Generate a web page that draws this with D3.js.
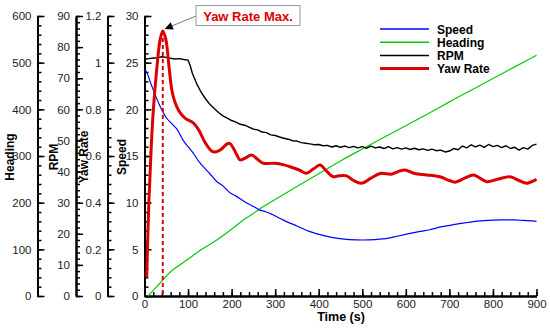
<!DOCTYPE html>
<meta charset="utf-8">
<script src="https://cdn.jsdelivr.net/npm/d3@7"></script>
<style>
body { margin: 0; background: #fff; }
text { font-family: "Liberation Sans", Arial, sans-serif; }
.axis text { font-size: 11.5px; fill: #222; }
.axis path { stroke: #000; stroke-width: 2; }
.axis line { stroke: #000; stroke-width: 1.5; }
.title { font-size: 12px; font-weight: bold; }
</style>
<body>
<script>
// series values (time in s)
var speedT = [0, 5, 12, 24, 36, 50, 62, 74, 90, 100, 112, 125, 140, 150, 165, 180, 195, 210, 230, 250, 265, 280, 295, 320, 350, 380, 410, 440, 470, 500, 530, 560, 580, 600, 630, 655, 680, 705, 730, 760, 790, 820, 850, 870, 900];
var speedV = [24.2, 24.0, 23.1, 21.6, 20.3, 19.1, 18.5, 17.9, 16.6, 16.0, 15.3, 14.4, 13.6, 13.1, 12.3, 11.8, 11.1, 10.7, 10.1, 9.6, 9.2, 9.0, 8.7, 8.1, 7.5, 6.9, 6.5, 6.2, 6.05, 6.0, 6.05, 6.2, 6.4, 6.6, 6.9, 7.1, 7.4, 7.6, 7.8, 8.0, 8.1, 8.15, 8.15, 8.1, 8.0];

var headingT = [8, 20, 30, 43, 60, 80, 97, 130, 166, 200, 227, 250, 272, 300, 349, 400, 453, 500, 550, 600, 650, 700, 750, 800, 850, 900];
var headingV = [0, 12, 22, 35, 52, 66, 77, 99, 120, 143, 163, 177, 191, 207, 234, 262, 291, 315, 340, 365, 390, 416, 441, 466, 491, 516];

var rpmT = [0, 10, 20, 30, 40, 50, 60, 70, 80, 90, 100, 105, 110, 120, 130, 140, 150, 160, 170, 180, 190, 200, 210, 220, 230, 240, 250, 260, 270, 280, 290, 300, 310, 320, 330, 340, 350, 360, 370, 380, 390, 400, 410, 420, 430, 440, 450, 460, 470, 480, 490, 500, 510, 520, 530, 540, 550, 560, 570, 580, 590, 600, 610, 620, 630, 640, 650, 660, 670, 680, 690, 700, 710, 720, 730, 740, 750, 760, 770, 780, 790, 800, 810, 820, 830, 840, 850, 860, 870, 880, 890, 900];
var rpmV = [76.1, 76.3, 76.5, 76.6, 76.9, 76.7, 76.4, 76.2, 76.3, 76.0, 75.8, 74.0, 71.5, 68.2, 65.5, 63.4, 61.6, 60.3, 59.0, 57.9, 57.2, 56.4, 55.9, 55.2, 54.9, 54.3, 53.6, 53.4, 52.7, 52.5, 51.8, 51.6, 51.1, 50.7, 50.4, 49.9, 49.8, 49.3, 49.1, 48.9, 48.6, 48.7, 48.3, 48.4, 47.9, 48.3, 47.8, 48.2, 47.7, 48.1, 47.6, 48.0, 47.5, 48.2, 47.6, 47.9, 47.4, 48.0, 47.3, 47.7, 47.2, 47.6, 47.1, 47.5, 47.0, 47.3, 46.8, 47.2, 46.7, 46.9, 46.3, 46.6, 47.4, 47.0, 48.2, 47.6, 48.6, 47.9, 48.5, 47.8, 48.7, 48.0, 48.4, 47.7, 48.3, 47.4, 47.8, 46.9, 47.7, 47.2, 48.4, 48.8];

var yawT = [5, 10, 15, 20, 28, 36, 42, 49, 57, 63, 70, 80, 93, 112, 125, 140, 155, 165, 177, 188, 196, 205, 212, 219, 230, 246, 260, 273, 300, 320, 334, 355, 372, 388, 403, 418, 433, 446, 464, 480, 498, 520, 541, 567, 585, 598, 620, 648, 678, 700, 713, 735, 755, 770, 786, 810, 839, 860, 877, 897, 900];
var yawV = [0.08, 0.40, 0.62, 0.79, 0.97, 1.10, 1.136, 1.10, 0.97, 0.88, 0.83, 0.79, 0.762, 0.742, 0.71, 0.655, 0.62, 0.618, 0.63, 0.65, 0.654, 0.63, 0.605, 0.583, 0.59, 0.604, 0.585, 0.569, 0.569, 0.562, 0.554, 0.54, 0.526, 0.545, 0.561, 0.535, 0.511, 0.515, 0.515, 0.495, 0.483, 0.505, 0.525, 0.522, 0.535, 0.54, 0.525, 0.519, 0.511, 0.495, 0.488, 0.505, 0.519, 0.505, 0.49, 0.5, 0.511, 0.495, 0.483, 0.497, 0.5];

var seriesNames = ["Speed", "Heading", "RPM", "Yaw Rate"];
var seriesColors = ["#0000ff", "#00cc00", "#000000", "#dd0000"];
var yawMaxT = 42, yawMaxV = 1.136;

var width = 550, height = 328;
var svg = d3.select("body").append("svg")
    .attr("width", width)
    .attr("height", height);

var plotTop = 16, plotBottom = 296, plotLeft = 144.5, plotRight = 536.5;

var x = d3.scaleLinear().domain([0, 900]).range([plotLeft, plotRight]);
var ySpeed = d3.scaleLinear().domain([0, 30]).range([plotBottom, plotTop]);
var yHeading = d3.scaleLinear().domain([0, 600]).range([plotBottom, plotTop]);
var yRpm = d3.scaleLinear().domain([0, 90]).range([plotBottom, plotTop]);
var yYaw = d3.scaleLinear().domain([0, 1.2]).range([plotBottom, plotTop]);

// left axes: scale, axis x, major step, minor step, title, title x
var axesDef = [
  {s: yHeading, ax: 37.5, maj: 100, min: 20, fmt: d3.format("d"), name: "Heading", tx: 14},
  {s: yRpm, ax: 76, maj: 10, min: 2, fmt: d3.format("d"), name: "RPM", tx: 58},
  {s: yYaw, ax: 107.5, maj: 0.2, min: 0.04, fmt: function(d) { return d == 0 ? "0" : d == 1 ? "1" : d3.format(".1f")(d); }, name: "Yaw Rate", tx: 88},
  {s: ySpeed, ax: 144.5, maj: 5, min: 1, fmt: d3.format("d"), name: "Speed", tx: 126}
];

axesDef.forEach(function(a) {
  var dom = a.s.domain();
  var minorVals = d3.range(0, Math.round(dom[1] / a.min) + 1).map(function(i) { return i * a.min; });
  var majorVals = d3.range(0, Math.round(dom[1] / a.maj) + 1).map(function(i) { return +(i * a.maj).toFixed(3); });
  svg.append("g")
      .attr("class", "axis")
      .attr("transform", "translate(" + a.ax + ",0)")
      .call(d3.axisLeft(a.s).tickValues(minorVals).tickSize(-4).tickSizeOuter(0).tickFormat(""));
  svg.append("g")
      .attr("class", "axis")
      .attr("transform", "translate(" + a.ax + ",0)")
      .call(d3.axisLeft(a.s).tickValues(majorVals).tickSize(-7).tickSizeOuter(0).tickPadding(6).tickFormat(a.fmt));
  svg.append("text")
      .attr("class", "title")
      .attr("transform", "translate(" + a.tx + "," + 157 + ") rotate(-90)")
      .attr("text-anchor", "middle")
      .text(a.name);
});

// x axis
svg.append("g")
    .attr("class", "axis")
    .attr("transform", "translate(0," + plotBottom + ")")
    .call(d3.axisBottom(x).tickValues(d3.range(0, 901, 20)).tickSize(-4).tickSizeOuter(0).tickFormat(""));
svg.append("g")
    .attr("class", "axis")
    .attr("transform", "translate(0," + plotBottom + ")")
    .call(d3.axisBottom(x).tickValues(d3.range(0, 901, 100)).tickSize(-7).tickSizeOuter(0).tickPadding(4));

svg.append("text")
    .attr("class", "title")
    .attr("x", 341)
    .attr("y", 321)
    .attr("text-anchor", "middle")
    .style("font-size", "12.5px")
    .text("Time (s)");

function addLine(ts, vs, ys, color, w, curve) {
  var pts = ts.map(function(t, i) { return [t, vs[i]]; });
  svg.append("path")
      .datum(pts)
      .attr("fill", "none")
      .attr("stroke", color)
      .attr("stroke-width", w)
      .attr("stroke-linejoin", "round")
      .attr("d", d3.line()
          .x(function(d) { return x(d[0]); })
          .y(function(d) { return ys(d[1]); })
          .curve(curve));
}

addLine(headingT, headingV, yHeading, seriesColors[1], 1.2, d3.curveMonotoneX);
addLine(speedT, speedV, ySpeed, seriesColors[0], 1.2, d3.curveMonotoneX);
addLine(rpmT, rpmV, yRpm, seriesColors[2], 1.4, d3.curveLinear);

// dashed marker of yaw rate max
svg.append("line")
    .attr("x1", x(yawMaxT)).attr("x2", x(yawMaxT))
    .attr("y1", yYaw(yawMaxV)).attr("y2", plotBottom)
    .attr("stroke", seriesColors[3])
    .attr("stroke-width", 2)
    .attr("stroke-dasharray", "4,3");

addLine(yawT, yawV, yYaw, seriesColors[3], 3, d3.curveCatmullRom);

// legend
var legend = svg.selectAll(".legend")
    .data(seriesNames)
    .enter().append("g")
    .attr("class", "legend")
    .attr("transform", function(d, i) { return "translate(380," + (29 + i * 13.2) + ")"; });
legend.append("line")
    .attr("x1", 0).attr("x2", 49)
    .attr("stroke", function(d, i) { return seriesColors[i]; })
    .attr("stroke-width", function(d, i) { return i == 3 ? 3 : 1.5; });
legend.append("text")
    .attr("x", 57)
    .attr("y", 4.5)
    .style("font-size", "12px")
    .style("font-weight", "bold")
    .text(function(d) { return d; });

// annotation
var defs = svg.append("defs");
defs.append("marker")
    .attr("id", "arrow")
    .attr("viewBox", "0 0 10 10")
    .attr("refX", 10).attr("refY", 5)
    .attr("markerWidth", 14).attr("markerHeight", 8)
    .attr("markerUnits", "userSpaceOnUse")
    .attr("orient", "auto")
    .append("path")
    .attr("d", "M0,0L10,5L0,10z")
    .attr("fill", "#000");

svg.append("line")
    .attr("x1", 196).attr("y1", 16)
    .attr("x2", x(yawMaxT) + 2).attr("y2", yYaw(yawMaxV) - 2)
    .attr("stroke", "#777")
    .attr("stroke-width", 1)
    .attr("marker-end", "url(#arrow)");

svg.append("rect")
    .attr("x", 196).attr("y", 5.5)
    .attr("width", 104).attr("height", 20)
    .attr("fill", "#fff")
    .attr("stroke", "#999");
svg.append("text")
    .attr("x", 248)
    .attr("y", 20.5)
    .attr("text-anchor", "middle")
    .style("font-size", "13px")
    .style("font-weight", "bold")
    .style("fill", "#dd0000")
    .text("Yaw Rate Max.");
</script>
</body>
</html>
